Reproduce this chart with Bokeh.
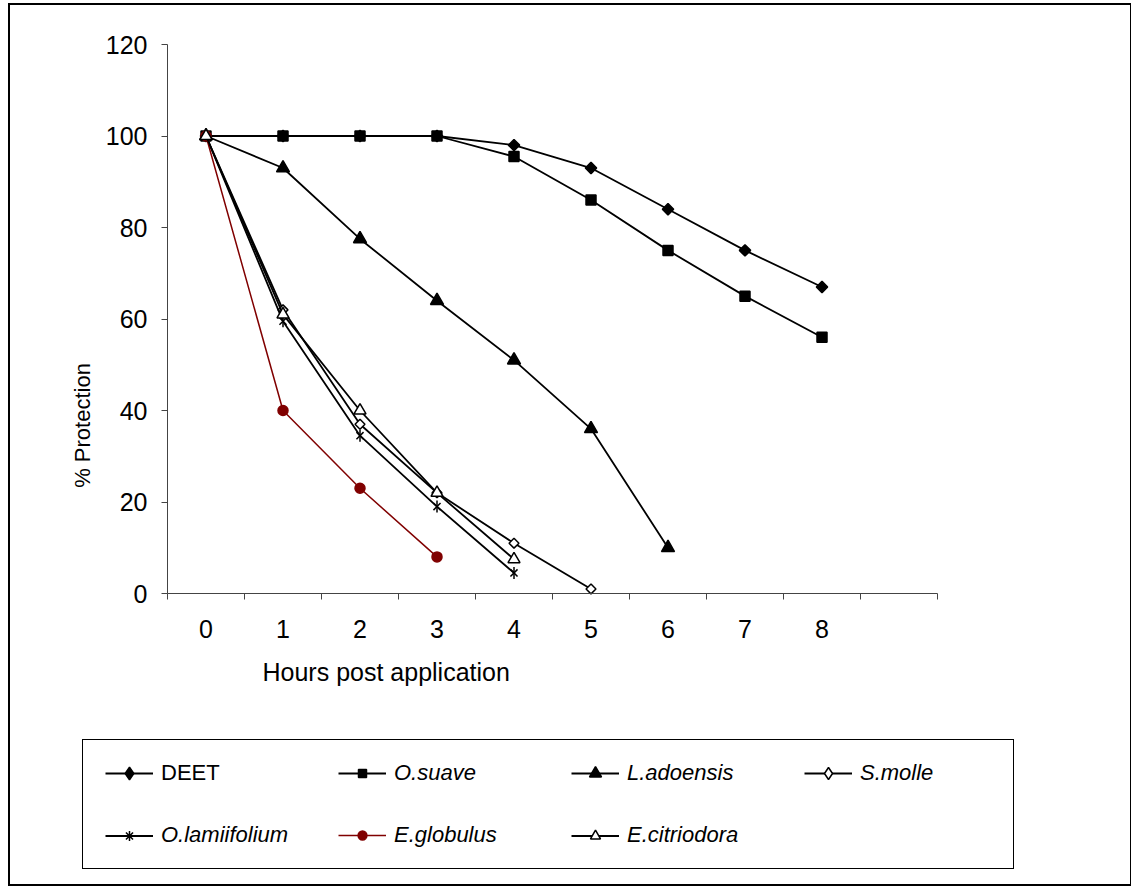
import numpy as np
from bokeh.plotting import figure
from bokeh.models import Range1d, FixedTicker, Legend, LegendItem, Label
from bokeh.core.properties import value
from bokeh.embed import file_html
from bokeh.resources import INLINE

# ---- data ----
hours = [0, 1, 2, 3, 4, 5, 6, 7, 8]
deet = [100, 100, 100, 100, 98, 93, 84, 75, 67]
o_suave = [100, 100, 100, 100, 95.5, 86, 75, 65, 56]
l_adoensis = [100, 93, 77.5, 64, 51, 36, 10]
s_molle = [100, 62, 37, 22, 11, 1]
o_lamiifolium = [100, 59.5, 34.5, 19, 4.5]
e_globulus = [100, 40, 23, 8]
e_citriodora = [100, 61, 40, 22, 7.5]
y_ticks = [0, 20, 40, 60, 80, 100, 120]
x_title = "Hours post application"
y_title = "% Protection"

FONT = "Liberation Sans"
AXC = "#444444"
RED = "#800000"

# ---- layout in pixels (canvas = page, frame = whole canvas) ----
W, H = 1131, 890
X0_PX, X1_PX = 167, 937     # px of the axis ends (x = -0.5 .. 9.5)
Y1_PX, Y0_PX = 44, 593      # px of y = 120 and y = 0
x_lo, x_hi = -0.5, len(hours) + 0.5
y_lo, y_hi = y_ticks[0], y_ticks[-1]
sx = (X1_PX - X0_PX) / (x_hi - x_lo)
sy = (Y0_PX - Y1_PX) / (y_hi - y_lo)
x_range = Range1d(x_lo - X0_PX / sx, x_hi + (W - X1_PX) / sx)
y_range = Range1d(y_lo - (H - Y0_PX) / sy, y_hi + Y1_PX / sy)

p = figure(width=W, height=H, output_backend="svg", toolbar_location=None,
           x_range=x_range, y_range=y_range, min_border=0)
p.grid.visible = False
p.outline_line_color = None
p.background_fill_color = "white"
p.border_fill_color = "white"

xa = p.xaxis[0]
xa.fixed_location = y_lo
xa.bounds = (x_lo, x_hi)
xa.ticker = FixedTicker(ticks=hours, minor_ticks=[h - 0.5 for h in range(len(hours) + 2)])
xa.major_tick_line_color = None
xa.major_tick_out = 6
xa.major_tick_in = 0
xa.minor_tick_line_color = AXC
xa.minor_tick_out = 6
xa.minor_tick_in = 0
xa.axis_line_color = AXC
xa.major_label_standoff = 20
xa.major_label_text_font = FONT
xa.major_label_text_font_size = "25px"
xa.major_label_text_color = "black"

ya = p.yaxis[0]
ya.fixed_location = x_lo
ya.bounds = (y_lo, y_hi)
ya.ticker = FixedTicker(ticks=y_ticks, minor_ticks=[])
ya.major_tick_line_color = AXC
ya.major_tick_out = 6
ya.major_tick_in = 0
ya.minor_tick_line_color = None
ya.axis_line_color = AXC
ya.major_label_standoff = 14
ya.major_label_text_font = FONT
ya.major_label_text_font_size = "25px"
ya.major_label_text_color = "black"

LW = 1.8
STYLES = {
    "deet": [dict(marker="square", size=8, fill_color="black", angle=np.pi / 4)],
    "suave": [dict(marker="square", size=10, fill_color="black")],
    "lad": [dict(marker="triangle", size=13, fill_color="black")],
    "smol": [dict(marker="square", size=7, fill_color="white", angle=np.pi / 4)],
    "olam": [dict(marker="x", size=10, fill_color=None),
             dict(marker="dash", size=12, fill_color=None, angle=np.pi / 2)],
    "eglo": [dict(marker="circle", size=10, fill_color=RED)],
    "ecit": [dict(marker="triangle", size=12, fill_color="white")],
}
# markers used only for the legend swatches (legend glyphs ignore angles)
LEGEND_MARKERS = {
    "deet": dict(marker="diamond", fill_color="black"),
    "smol": dict(marker="diamond", fill_color="white"),
    "olam": dict(marker="asterisk", fill_color=None),
}
COLORS = {"eglo": RED}


def series(key, ys):
    xs = hours[:len(ys)]
    color = COLORS.get(key, "black")
    lw = 1.5 if key == "eglo" else LW
    rs = [p.line(xs, ys, line_color=color, line_width=lw)]
    for st in STYLES[key]:
        rs.append(p.scatter(xs, ys, line_color=color, line_width=1.5, **st))
    if key in LEGEND_MARKERS:
        leg = [rs[0], p.scatter(xs, ys, line_color=color, line_width=1.5,
                                visible=False, **LEGEND_MARKERS[key])]
    else:
        leg = rs
    return leg


data = [("deet", deet), ("suave", o_suave), ("lad", l_adoensis), ("smol", s_molle),
        ("olam", o_lamiifolium), ("eglo", e_globulus), ("ecit", e_citriodora)]
R = {key: series(key, ys) for key, ys in data}
r_dummy = p.line([], [], line_alpha=0)

# outer chart border and legend box, drawn as empty legends
base = dict(padding=0, margin=0, label_text_font=FONT, label_text_font_size="22px",
            label_text_color="black", glyph_width=10, glyph_height=10, label_standoff=0,
            inactive_fill_alpha=0)


def frame_box(left, top, right, bottom, lw, fill_alpha):
    lg = Legend(items=[LegendItem(label=value(""), renderers=[r_dummy])],
                location=(left, H - bottom), label_width=right - left - 10,
                label_height=bottom - top, border_line_color="black",
                border_line_alpha=1.0, border_line_width=lw,
                background_fill_color="white",
                background_fill_alpha=fill_alpha, **base)
    p.add_layout(lg, "center")


frame_box(8, 7, 1128, 886, 2, 0.0)
frame_box(82, 741, 1012, 869, 1.5, 1.0)

# axis titles
p.add_layout(Label(x=262, y=H - 671, x_units="screen", y_units="screen", text=x_title,
                   text_align="left", text_baseline="middle",
                   text_font=FONT, text_font_size="25px", text_color="black"))
p.add_layout(Label(x=82, y=H - 425, x_units="screen", y_units="screen", text=y_title,
                   angle=np.pi / 2, text_align="center", text_baseline="middle",
                   text_font=FONT, text_font_size="22px", text_color="black"))

# legend entries: (label, key, column, row, swatch height, italic)
legend_labels = ["DEET", "O.suave", "L.adoensis", "S.molle",
                 "O.lamiifolium", "E.globulus", "E.citriodora"]
swatch_h = [32, 20, 30, 30, 25, 22, 25]
COL_X0, COL_DX = 105, 233
ROW_Y = [773, 835]
for i, ((key, _), lab) in enumerate(zip(data, legend_labels)):
    col, row = i % 4, i // 4
    lg = Legend(items=[LegendItem(label=value(lab), renderers=R[key])],
                location=(COL_X0 + col * COL_DX, H - ROW_Y[row] - 21),
                glyph_width=48, glyph_height=swatch_h[i], label_standoff=8,
                label_width=150, label_height=42, padding=0, margin=0,
                label_text_font=FONT, label_text_font_size="22px",
                label_text_color="black",
                label_text_font_style="normal" if lab == "DEET" else "italic",
                border_line_alpha=0, background_fill_alpha=0, inactive_fill_alpha=0)
    p.add_layout(lg, "center")

open("out.html", "w").write(file_html(p, INLINE))
